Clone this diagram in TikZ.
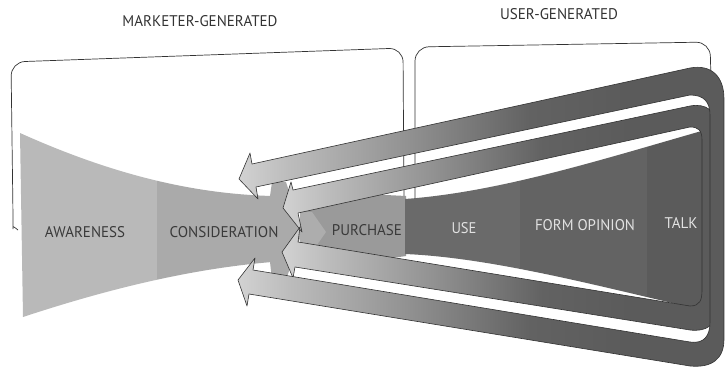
\documentclass[tikz,border=0pt]{standalone}
\usepackage{fontspec}
\newfontfamily\lab{PT Sans}
\usetikzlibrary{calc}
\definecolor{ink}{HTML}{333333}
\definecolor{aware}{HTML}{B9B9B9}
\definecolor{consid}{HTML}{AAAAAA}
\definecolor{purch}{HTML}{9A9A9A}
\definecolor{purlight}{HTML}{ADADAD}
\definecolor{usec}{HTML}{6A6A6A}
\definecolor{formc}{HTML}{636363}
\definecolor{talkc}{HTML}{5B5B5B}
\definecolor{a0}{HTML}{D2D2D2}
\definecolor{a1}{HTML}{BDBDBD}
\definecolor{a2}{HTML}{939393}
\definecolor{a3}{HTML}{626262}
\definecolor{a4}{HTML}{5B5B5B}
\definecolor{darktxt}{HTML}{3A3A3A}
\definecolor{lighttxt}{HTML}{E2E2E2}
\pgfdeclarehorizontalshading{arrowshade}{100bp}{color(0bp)=(a0); color(25bp)=(a0); color(30bp)=(a1); color(42bp)=(a2); color(55bp)=(a3); color(65bp)=(a4); color(100bp)=(a4)}
\newcommand\fitw[2]{\resizebox{#1}{11pt}{\lab #2}}
\begin{document}
\begin{tikzpicture}[x=1pt,y=-1pt,
  boxline/.style={draw=ink, line width=0.7pt, rounded corners=14pt},
  band/.style={shading=arrowshade, draw=ink, line width=0.6pt, line join=round},
  lbl/.style={inner sep=0pt, text=#1}]
\useasboundingbox (0,0) rectangle (725,369);

% group boxes
\draw[boxline] (18,230) .. controls (13,226) .. (13,215) -- (11,62) -- (403,48) -- (404,205);
\draw[boxline] (415,205) -- (415,47) -- (710,42) -- (711,80);

% left funnel
\begin{scope}
  \clip (20,133) .. controls (120,178) and (200,194) .. (272,196) -- (272,262) .. controls (200,268) and (120,285) .. (23,317) -- cycle;
  \fill[aware] (0,0) rectangle (157,369);
  \fill[consid] (157,0) rectangle (273,369);
\end{scope}
\fill[consid] (270,196) -- (272,182) -- (286,182) -- (302,232) -- (286,280) -- (272,280) -- (270,262) -- cycle;

% purchase
\fill[purch] (300,212) -- (300,205) .. controls (300,195) and (310,192) .. (325,192) -- (406,196) -- (406,256) -- (325,268) .. controls (310,268) and (300,262) .. (300,255) -- cycle;
\fill[purlight] (300,212) -- (312,212) -- (326,232) -- (312,252) -- (300,252) -- cycle;

% right funnel
\begin{scope}
  \clip (405,199) .. controls (500,192) and (600,160) .. (712,128) -- (712,312) .. controls (620,292) and (500,258) .. (405,254) -- cycle;
  \fill[usec] (404,0) rectangle (520,369);
  \fill[formc] (520,0) rectangle (647,369);
  \fill[talkc] (647,0) rectangle (712,369);
\end{scope}

% inner loop (arrows 2 and 3)
\shadedraw[band] (283,208) -- (291,182) -- (293,190) -- (690,106)
  .. controls (706,103) and (716,111) .. (716,125) -- (716,311)
  .. controls (716,325) and (706,332) .. (690,330) -- (295,267) -- (293,278) -- (282,252) -- (300,227) -- (298,242) -- (690,306)
  .. controls (700,306) and (702,300) .. (702,290) -- (702,140)
  .. controls (702,130) and (698,127) .. (690,127) -- (298,213) -- (302,232) -- cycle;

% outer loop (arrows 1 and 4)
\shadedraw[band] (239,179) -- (250,153) -- (252,164) -- (690,68)
  .. controls (712,64) and (724,77) .. (724,99) -- (724,339)
  .. controls (724,359) and (712,368) .. (690,366) -- (249,294) -- (247,306) -- (238,280) -- (255,258) -- (253,270) -- (690,342)
  .. controls (704,344) and (710,336) .. (710,322) -- (710,115)
  .. controls (710,102) and (704,95) .. (690,95) -- (256,187) -- (258,199) -- cycle;

% titles
\node[lbl=ink] (mg) at (200,21) {\fitw{155pt}{MARKETER-GENERATED}};
\node[lbl=ink] (ug) at (559,14) {\fitw{118pt}{USER-GENERATED}};

% stage labels
\node[lbl=darktxt] (aw) at (85,232) {\fitw{80pt}{AWARENESS}};
\node[lbl=darktxt] (co) at (224,232) {\fitw{109pt}{CONSIDERATION}};
\node[lbl=darktxt] (pu) at (367,230) {\fitw{70pt}{PURCHASE}};
\node[lbl=lighttxt] (us) at (464,228) {\fitw{25pt}{USE}};
\node[lbl=lighttxt] (fo) at (585,225) {\fitw{100pt}{FORM OPINION}};
\node[lbl=lighttxt] (ta) at (681,223) {\fitw{33pt}{TALK}};
\end{tikzpicture}
\end{document}
